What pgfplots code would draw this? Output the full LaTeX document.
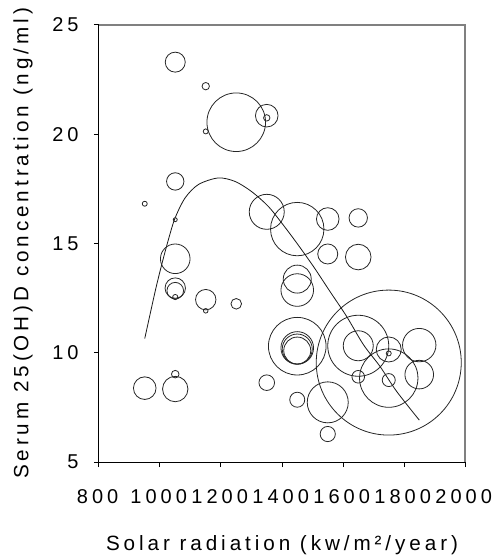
\documentclass[border=0pt]{standalone}
\usepackage{fontspec}
\setmainfont{Liberation Sans}
\newfontfamily\labfont[LetterSpace=19]{Liberation Sans}
\newfontfamily\tickfont[LetterSpace=20]{Liberation Sans}
\usepackage{pgfplots}
\pgfplotsset{compat=1.18}
\usepackage{pgfplotstable}

% bubbles: x, y, radius (px of the reference)
\pgfplotstableread{
x y r
1050 23.30 10
1150 22.20 3.7
1250 20.55 29.3
1350 20.85 11.3
1350 20.75 3.2
1150 20.13 2.5
1050 17.84 8.7
950 16.82 2.5
1050 16.09 2
1350 16.45 17.5
1450 15.66 26.7
1550 16.12 11.3
1650 16.17 9.2
1550 14.52 10
1650 14.38 12.8
1450 13.37 14
1450 12.87 16.3
1250 12.24 5.3
1150 12.43 10.2
1150 11.92 2.3
1050 14.30 14.8
1050 12.96 10.2
1050 12.84 8.3
1050 12.55 2.6
950 8.38 11.3
1050 8.34 12.7
1050 9.02 3.8
1350 8.63 7.8
1450 10.30 28.8
1450 10.22 16.3
1450 10.17 15
1450 10.10 13.5
1450 7.85 7.5
1550 7.73 20.5
1550 6.28 7.6
1750 9.55 72.5
1650 10.32 30.5
1650 10.32 15
1750 10.15 12.5
1750 9.97 2.5
1850 10.35 16.7
1750 8.84 29.2
1750 8.75 6.5
1850 9.00 14.3
1650 8.90 6.3
}\bubbles

\pgfplotstableread{
x y
950 10.65
984 12.80
1005 14.00
1027 15.15
1049 16.15
1082 17.08
1126 17.70
1191 18.00
1246 17.84
1300 17.38
1355 16.70
1399 15.94
1448 15.03
1503 13.95
1557 12.81
1612 11.66
1667 10.37
1721 9.38
1776 8.23
1850 6.92
}\fitline

\begin{document}
\begin{tikzpicture}
\begin{axis}[
  scale only axis,
  width=274.5pt, height=327.75pt,
  xmin=800, xmax=2000, ymin=5, ymax=25,
  xtick={800,1000,...,2000}, ytick={5,10,...,25},
  axis x line*=bottom, axis y line*=left,
  axis line style={black, line width=0.75pt},
  tick align=outside,
  tick style={black, line width=0.75pt},
  major tick length=3.75pt,
  /pgf/number format/assume math mode=true,
  /pgf/number format/1000 sep={},
  ticklabel style={font=\fontsize{15}{17}\selectfont\tickfont},
  xticklabel style={yshift=-13pt, xshift=-1pt},
  yticklabel style={xshift=-8pt},
  xlabel={Solar radiation (kw/m²/year)},
  ylabel={Serum 25(OH)D concentration (ng/ml)},
  every axis x label/.style={at={(rel axis cs:0.5,0)}, yshift=-62.6pt, anchor=center,
    font=\fontsize{15.5}{17}\selectfont\labfont},
  every axis y label/.style={at={(rel axis cs:0,0.5)}, xshift=-57pt, rotate=90, anchor=center,
    font=\fontsize{15.5}{17}\selectfont\labfont},
  clip=false,
]
\coordinate (O) at (rel axis cs:0,0);
\draw[gray, line width=1.5pt] (rel axis cs:0,1) -- (rel axis cs:1,1) -- (rel axis cs:1,0);

\addplot[only marks, mark=o, line width=0.6pt, scatter,
  scatter/use mapped color={draw=black!85, fill=none},
  visualization depends on={\thisrow{r} \as \rad},
  scatter/@pre marker code/.append style={/tikz/mark size=0.75pt*\rad}]
  table {\bubbles};

\addplot[black!90, line width=0.6pt, smooth, no marks] table {\fitline};
\end{axis}
\pgfresetboundingbox
\path ([shift={(-74.25pt,-71.25pt)}]O) rectangle ++(369.75pt,417.75pt);
\end{tikzpicture}
\end{document}
